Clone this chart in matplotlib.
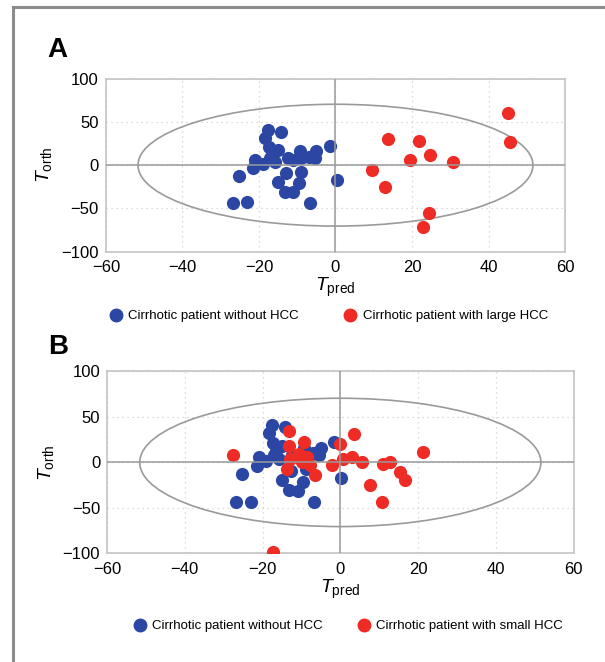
import matplotlib
matplotlib.use("Agg")
import matplotlib.pyplot as plt
from matplotlib.patches import Ellipse
from matplotlib.lines import Line2D

plt.rcParams["font.family"] = ["Liberation Sans", "DejaVu Sans"]
plt.rcParams["mathtext.fontset"] = "custom"
plt.rcParams["mathtext.rm"] = "Liberation Sans"
plt.rcParams["mathtext.it"] = "Liberation Sans:italic"

# scores
blue_x = [-26.8, -23.0, -25.2, -17.6, -14.3, -18.4, -17.3, -15.0, -21.0, -21.5,
          -17.1, -15.8, -12.4, -9.3, -8.9, -5.0, -5.4, -1.5, 0.3, -6.7,
          -12.8, -8.9, -15.0, -9.5, -13.2, -11.0, -19.0, -16.5, -11.0, -7.0]
blue_y = [-44, -43, -12.5, 41, 38.5, 32, 21.5, 18, 6, -3.5,
          8, 4, 8, 16, 8, 16, 8, 22.5, -17, -44,
          -9.3, -7.4, -19, -21, -30.7, -31, 1, 12, 6, 10]

red_a_x = [45.0, 45.7, 13.7, 21.8, 24.6, 19.4, 30.7, 9.6, 12.9, 24.4, 23.0]
red_a_y = [60.4, 26.3, 30.2, 27.5, 12.0, 5.8, 4.2, -5.5, -25.6, -55.0, -72.0]

red_b_x = [-27.7, -13.3, -13.3, -9.4, -10.7, -12.9, -8.6, -9.9, -7.7, -13.7,
           -6.4, 0.0, 3.4, -2.2, 3.0, 5.6, 0.8, 11.1, 12.9, 15.4,
           16.7, 7.7, 10.7, 21.4, -17.4]
red_b_y = [7.6, 34.8, 18.5, 22.1, 9.4, 4.0, 5.8, 0.2, -3.3, -6.9,
           -14.1, 20.3, 31.2, -3.3, 5.8, 0.4, 3.6, -1.4, 0.4, -10.5,
           -19.6, -25.0, -43.0, 11.2, -98.6]

xticks = [-60, -40, -20, 0, 20, 40, 60]
yticks = [-100, -50, 0, 50, 100]
ell_w, ell_h = 51.6, 70.5   # semi-axes of the T2 ellipse

BLUE = "#2b46a3"
RED = "#ee2b24"
GRAY = "#9a9a9a"

fig = plt.figure(figsize=(6.05, 6.62), dpi=100)

# outer grey frame (only left and top visible)
fig.add_artist(Line2D([0.021, 0.021], [0.0, 0.989], transform=fig.transFigure,
                      color="#8c8c8c", lw=2.2))
fig.add_artist(Line2D([0.021, 1.0], [0.989, 0.989], transform=fig.transFigure,
                      color="#8c8c8c", lw=2.2))


def panel(rect, red_x, red_y):
    ax = fig.add_axes(rect)
    ax.set_xlim(-60, 60)
    ax.set_ylim(-100, 100)
    ax.set_xticks(xticks)
    ax.set_yticks(yticks)
    ax.grid(True, ls=(0, (1, 3)), color="#d0d0d0", lw=0.9)
    ax.set_axisbelow(True)
    for s in ax.spines.values():
        s.set_color("#c4c4c4")
        s.set_linewidth(1.2)
    ax.tick_params(length=0, labelsize=12)
    ax.tick_params(axis="x", pad=6)
    ax.tick_params(axis="y", pad=5)
    ax.add_patch(Ellipse((0, 0), 2 * ell_w, 2 * ell_h, fill=False,
                         ec=GRAY, lw=1.2, zorder=2))
    ax.scatter(blue_x, blue_y, s=90, color=BLUE, lw=0, zorder=3)
    ax.scatter(red_x, red_y, s=90, color=RED, lw=0, zorder=3)
    ax.axhline(0, color=GRAY, lw=1.1, zorder=4)
    ax.axvline(0, color=GRAY, lw=1.1, zorder=4)
    ax.set_xlabel(r"$T_{\mathrm{pred}}$", fontsize=14, labelpad=1)
    ax.set_ylabel(r"$T_{\mathrm{orth}}$", fontsize=14, labelpad=5)
    return ax


axA = panel([0.175, 0.620, 0.759, 0.261], red_a_x, red_a_y)
axB = panel([0.177, 0.164, 0.771, 0.275], red_b_x, red_b_y)

fig.text(0.079, 0.924, "A", fontsize=20, fontweight="bold", ha="left", va="center")
fig.text(0.079, 0.476, "B", fontsize=20, fontweight="bold", ha="left", va="center")


def legend(labels, center_x, y, colsp):
    handles = [Line2D([], [], ls="", marker="o", ms=9, color=BLUE, mec=BLUE),
               Line2D([], [], ls="", marker="o", ms=9, color=RED, mec=RED)]
    fig.legend(handles, labels, loc="center", bbox_to_anchor=(center_x, y),
               ncol=2, frameon=False, fontsize=9.5, handletextpad=0.45,
               columnspacing=colsp, handlelength=1.0)


legend(["Cirrhotic patient without HCC", "Cirrhotic patient with large HCC"],
       0.543, 1 - 316 / 662, 3.4)
legend(["Cirrhotic patient without HCC", "Cirrhotic patient with small HCC"],
       0.575, 1 - 626 / 662, 2.6)

fig.savefig("out.png", dpi=100)
